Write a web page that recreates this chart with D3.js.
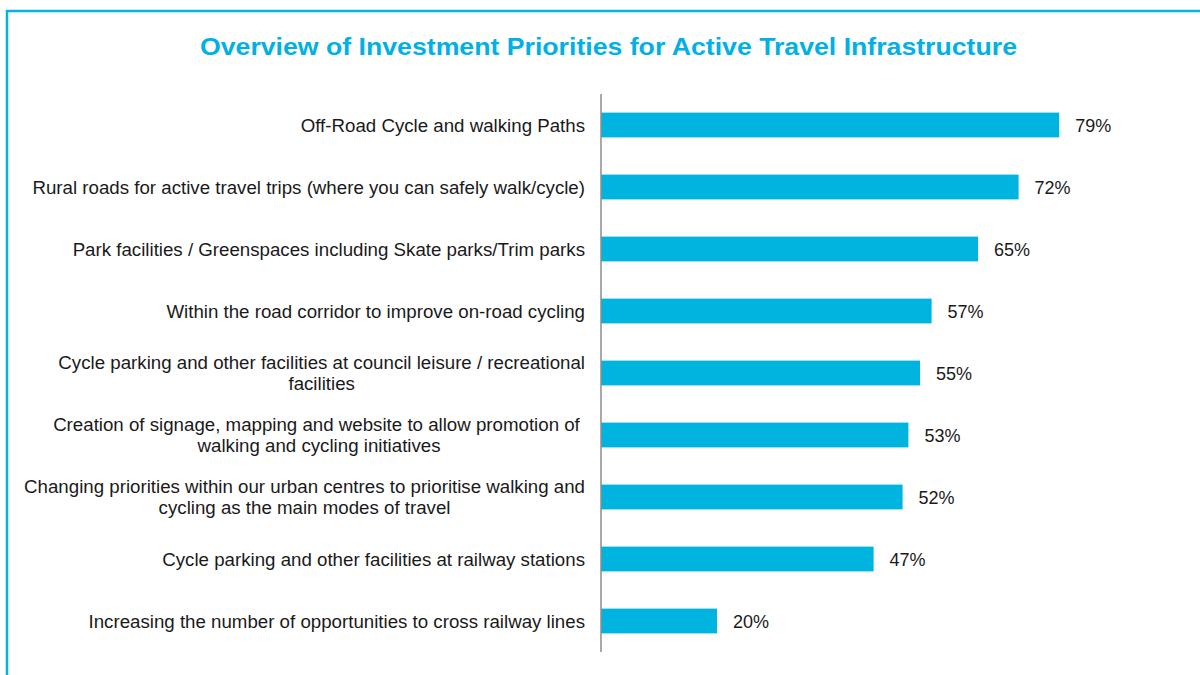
<!DOCTYPE html>
<html>
<head>
<script src="https://cdn.jsdelivr.net/npm/d3@7/dist/d3.min.js"></script>
<style>
    body { margin: 0; background: white; }
    text { font-family: "Liberation Sans", Arial, sans-serif; }
    .title { font-size: 24px; font-weight: bold; fill: #00b0e6; text-anchor: middle; }
    .label { font-size: 18.7px; fill: #1a1a1a; white-space: pre; }
    .value { font-size: 18px; fill: #1a1a1a; dominant-baseline: central; }
    .bar { fill: #00b4e0; }
</style>
</head>
<body>
<div id="chart"></div>
<script>
    var categories = [
        ["Off-Road Cycle and walking Paths"],
        ["Rural roads for active travel trips (where you can safely walk/cycle)"],
        ["Park facilities / Greenspaces including Skate parks/Trim parks"],
        ["Within the road corridor to improve on-road cycling"],
        ["Cycle parking and other facilities at council leisure / recreational", "facilities"],
        ["Creation of signage, mapping and website to allow promotion of ", "walking and cycling initiatives"],
        ["Changing priorities within our urban centres to prioritise walking and", "cycling as the main modes of travel"],
        ["Cycle parking and other facilities at railway stations"],
        ["Increasing the number of opportunities to cross railway lines"]
    ];
    var values = [79, 72, 65, 57, 55, 53, 52, 47, 20];

    var width = 1200, height = 675;
    var svg = d3.select("#chart").append("svg")
        .attr("width", width)
        .attr("height", height);

    // frame (left and top edges)
    svg.append("path")
        .attr("d", "M7,675 V11 H1200")
        .attr("fill", "none")
        .attr("stroke", "#00b4e6")
        .attr("stroke-width", 2.5);

    svg.append("text")
        .attr("class", "title")
        .attr("x", 608.5)
        .attr("y", 55)
        .attr("textLength", 817)
        .attr("lengthAdjust", "spacingAndGlyphs")
        .text("Overview of Investment Priorities for Active Travel Infrastructure");

    var x = d3.scaleLinear().domain([0, 100]).range([601, 1181]);
    var y = d3.scaleBand()
        .domain(d3.range(categories.length))
        .range([94, 652])
        .paddingInner(0.6)
        .paddingOuter(0.3);

    svg.selectAll(".bar")
        .data(values)
        .enter().append("rect")
        .attr("class", "bar")
        .attr("x", x(0))
        .attr("y", function (d, i) { return y(i); })
        .attr("width", function (d) { return x(d) - x(0); })
        .attr("height", y.bandwidth());

    svg.selectAll(".value")
        .data(values)
        .enter().append("text")
        .attr("class", "value")
        .attr("x", function (d) { return x(d) + 16; })
        .attr("y", function (d, i) { return y(i) + y.bandwidth() / 2 + 1; })
        .text(function (d) { return d + "%"; });

    // category labels, multi-line ones centred within their block
    var labelRight = 585;
    categories.forEach(function (lines, i) {
        var cy = y(i) + y.bandwidth() / 2;
        var g = svg.append("text").attr("class", "label");
        var spans = lines.map(function (line, j) {
            return g.append("tspan")
                .attr("dy", j === 0 ? 0 : 21)
                .text(line);
        });
        var maxW = d3.max(spans, function (s) { return s.node().getComputedTextLength(); });
        var top = cy - (lines.length - 1) * 10.5 + 6.5;
        g.attr("y", top).attr("text-anchor", lines.length > 1 ? "middle" : "end");
        spans.forEach(function (s) {
            s.attr("x", lines.length > 1 ? labelRight - maxW / 2 : labelRight);
        });
    });

    svg.append("line")
        .attr("x1", x(0)).attr("x2", x(0))
        .attr("y1", 94).attr("y2", 652)
        .attr("stroke", "#8c8c8c")
        .attr("stroke-width", 1.5);
</script>
</body>
</html>
